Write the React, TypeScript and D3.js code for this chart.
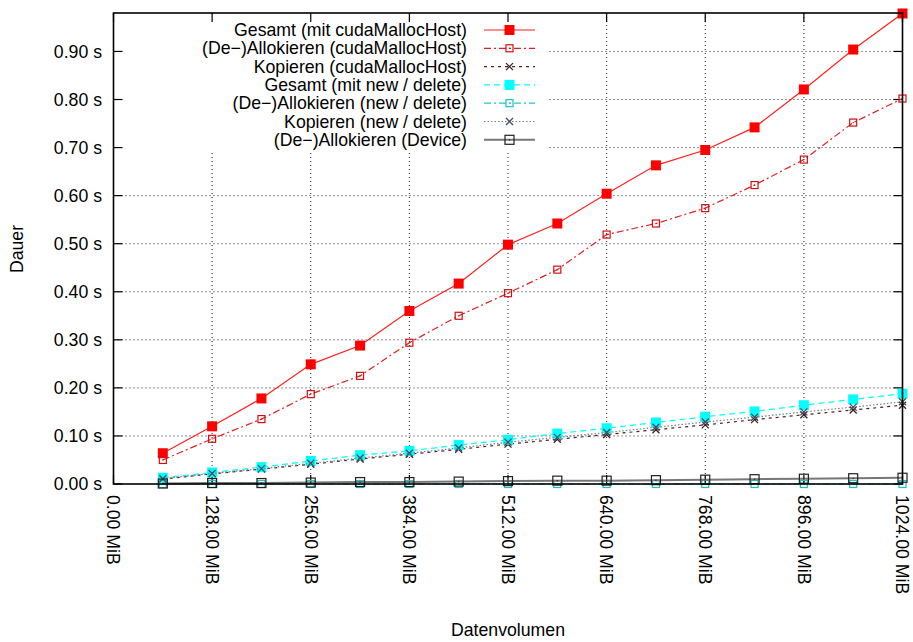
import React from 'react';
import { scaleLinear, line, range } from 'd3';

// data volume in MiB
const sizes = [64, 128, 192, 256, 320, 384, 448, 512, 576, 640, 704, 768, 832, 896, 960, 1024];

// durations in seconds
const gesamtHost = [0.064, 0.12, 0.178, 0.249, 0.288, 0.36, 0.417, 0.498, 0.542, 0.604, 0.663, 0.695, 0.742, 0.821, 0.904, 0.979];
const allokHost = [0.05, 0.094, 0.135, 0.187, 0.225, 0.294, 0.35, 0.397, 0.446, 0.519, 0.542, 0.574, 0.622, 0.675, 0.752, 0.802];
const kopierenHost = [0.01, 0.021, 0.031, 0.041, 0.052, 0.062, 0.072, 0.083, 0.093, 0.103, 0.113, 0.123, 0.134, 0.144, 0.154, 0.164];
const gesamtNew = [0.013, 0.024, 0.035, 0.048, 0.06, 0.069, 0.081, 0.092, 0.105, 0.116, 0.128, 0.14, 0.151, 0.164, 0.176, 0.188];
const allokNew = [0.0, 0.0, 0.0, 0.0, 0.0, 0.0, 0.0, 0.0, 0.0, 0.0, 0.0, 0.0, 0.0, 0.0, 0.0, 0.0];
const kopierenNew = [0.011, 0.022, 0.032, 0.043, 0.054, 0.064, 0.075, 0.087, 0.097, 0.107, 0.118, 0.129, 0.139, 0.15, 0.16, 0.171];
const allokDevice = [0.001, 0.002, 0.002, 0.003, 0.004, 0.004, 0.005, 0.006, 0.007, 0.007, 0.008, 0.009, 0.01, 0.011, 0.012, 0.013];

const xTicks = [0, 128, 256, 384, 512, 640, 768, 896, 1024];
const yTicks = [0, 0.1, 0.2, 0.3, 0.4, 0.5, 0.6, 0.7, 0.8, 0.9];

type Marker = 'filled' | 'open' | 'cross';

const series: { name: string; values: number[]; color: string; markColor: string; dash: string; width: number; marker: Marker; size: number }[] = [
  { name: 'Gesamt (mit cudaMallocHost)', values: gesamtHost, color: '#ff2020', markColor: '#ff0000', dash: '', width: 1.2, marker: 'filled', size: 10 },
  { name: '(De\u2212)Allokieren (cudaMallocHost)', values: allokHost, color: '#e02020', markColor: '#d01010', dash: '7,3,2,3', width: 1.2, marker: 'open', size: 7 },
  { name: 'Kopieren (cudaMallocHost)', values: kopierenHost, color: '#502020', markColor: '#402020', dash: '3,4', width: 1.2, marker: 'cross', size: 7 },
  { name: 'Gesamt (mit new / delete)', values: gesamtNew, color: '#00ffff', markColor: '#00ffff', dash: '6,4', width: 1.2, marker: 'filled', size: 10 },
  { name: '(De\u2212)Allokieren  (new / delete)', values: allokNew, color: '#20c8c8', markColor: '#20c0c0', dash: '7,3,2,3', width: 1.2, marker: 'open', size: 7 },
  { name: 'Kopieren (new / delete)', values: kopierenNew, color: '#708090', markColor: '#405060', dash: '1.5,2', width: 1.2, marker: 'cross', size: 7 },
  { name: '(De\u2212)Allokieren (Device)', values: allokDevice, color: '#777777', markColor: '#202020', dash: '', width: 2, marker: 'open', size: 9 },
];

const W = 913;
const H = 642;
const m = { left: 113.5, right: 902.5, top: 13, bottom: 484 };
const font = '"Liberation Sans", Arial, sans-serif';

const Mark = ({ x, y, s }: { x: number; y: number; s: (typeof series)[number] }) => {
  const h = s.size / 2;
  if (s.marker === 'filled') return <rect x={x - h} y={y - h} width={s.size} height={s.size} fill={s.markColor} />;
  if (s.marker === 'open')
    return (
      <g>
        <rect x={x - h} y={y - h} width={s.size} height={s.size} fill="none" stroke={s.markColor} strokeWidth={1.2} />
        <rect x={x - 0.6} y={y - 0.6} width={1.2} height={1.2} fill={s.markColor} />
      </g>
    );
  return <path d={`M${x - h},${y - h}L${x + h},${y + h}M${x - h},${y + h}L${x + h},${y - h}`} stroke={s.markColor} strokeWidth={1.3} fill="none" />;
};

export default function App() {
  const x = scaleLinear().domain([0, 1024]).range([m.left, m.right]);
  const y = scaleLinear().domain([0, 0.98]).range([m.bottom, m.top]);

  const legendX = 467;
  const legendRows = range(series.length).map((i) => 30 + i * 18.3);

  return (
    <svg width={W} height={H} style={{ position: 'absolute', left: 0, top: 0, background: '#fff' }} fontFamily={font}>
      {/* grid */}
      <g stroke="#222" strokeWidth={1} strokeDasharray="1,3">
        {xTicks.slice(1, -1).map((t) => (
          <line key={'gx' + t} x1={x(t)} x2={x(t)} y1={m.top} y2={m.bottom} />
        ))}
        {yTicks.slice(1).map((t) => (
          <line key={'gy' + t} x1={m.left} x2={m.right} y1={y(t)} y2={y(t)} />
        ))}
      </g>

      {/* key background hides the grid */}
      <rect x={m.left + 1} y={m.top + 1} width={546 - m.left} height={152 - m.top} fill="#fff" />

      {/* ticks */}
      <g stroke="#000" strokeWidth={1.2}>
        {xTicks.map((t) => (
          <g key={'tx' + t}>
            <line x1={x(t)} x2={x(t)} y1={m.bottom} y2={m.bottom - 9} />
            <line x1={x(t)} x2={x(t)} y1={m.top} y2={m.top + 9} />
          </g>
        ))}
        {yTicks.map((t) => (
          <g key={'ty' + t}>
            <line x1={m.left} x2={m.left + 9} y1={y(t)} y2={y(t)} />
            <line x1={m.right} x2={m.right - 9} y1={y(t)} y2={y(t)} />
          </g>
        ))}
      </g>

      {/* series */}
      {series.map((s) => {
        const pts = sizes.map((d, i) => [x(d), y(s.values[i])] as [number, number]);
        return (
          <g key={s.name}>
            <path d={line()(pts) ?? ''} fill="none" stroke={s.color} strokeWidth={s.width} strokeDasharray={s.dash || undefined} />
            {pts.map(([px, py], i) => (
              <Mark key={i} x={px} y={py} s={s} />
            ))}
          </g>
        );
      })}

      {/* frame */}
      <rect x={m.left} y={m.top} width={m.right - m.left} height={m.bottom - m.top} fill="none" stroke="#000" strokeWidth={1.6} />

      {/* y tick labels */}
      {yTicks.map((t) => (
        <text key={'ly' + t} x={102} y={y(t)} dy="0.35em" textAnchor="end" fontSize={17.7} fill="#000">
          {t.toFixed(2)} s
        </text>
      ))}

      {/* x tick labels */}
      {xTicks.map((t) => (
        <text key={'lx' + t} transform={`translate(${x(t)},495) rotate(90)`} dy="0.35em" textAnchor="start" fontSize={17.7} fill="#000">
          {t.toFixed(2)} MiB
        </text>
      ))}

      <text transform="translate(23,249) rotate(-90)" textAnchor="middle" fontSize={17.7} fill="#000">
        Dauer
      </text>
      <text x={508} y={636} textAnchor="middle" fontSize={17.7} fill="#000">
        Datenvolumen
      </text>

      {/* legend */}
      {series.map((s, i) => {
        const ly = legendRows[i];
        return (
          <g key={'lg' + i}>
            <text x={legendX} y={ly} dy="0.35em" textAnchor="end" fontSize={17.7} fill="#000">
              {s.name}
            </text>
            <line x1={484} x2={535} y1={ly} y2={ly} stroke={s.color} strokeWidth={s.width} strokeDasharray={s.dash || undefined} />
            <Mark x={509.5} y={ly} s={s} />
          </g>
        );
      })}
    </svg>
  );
}
